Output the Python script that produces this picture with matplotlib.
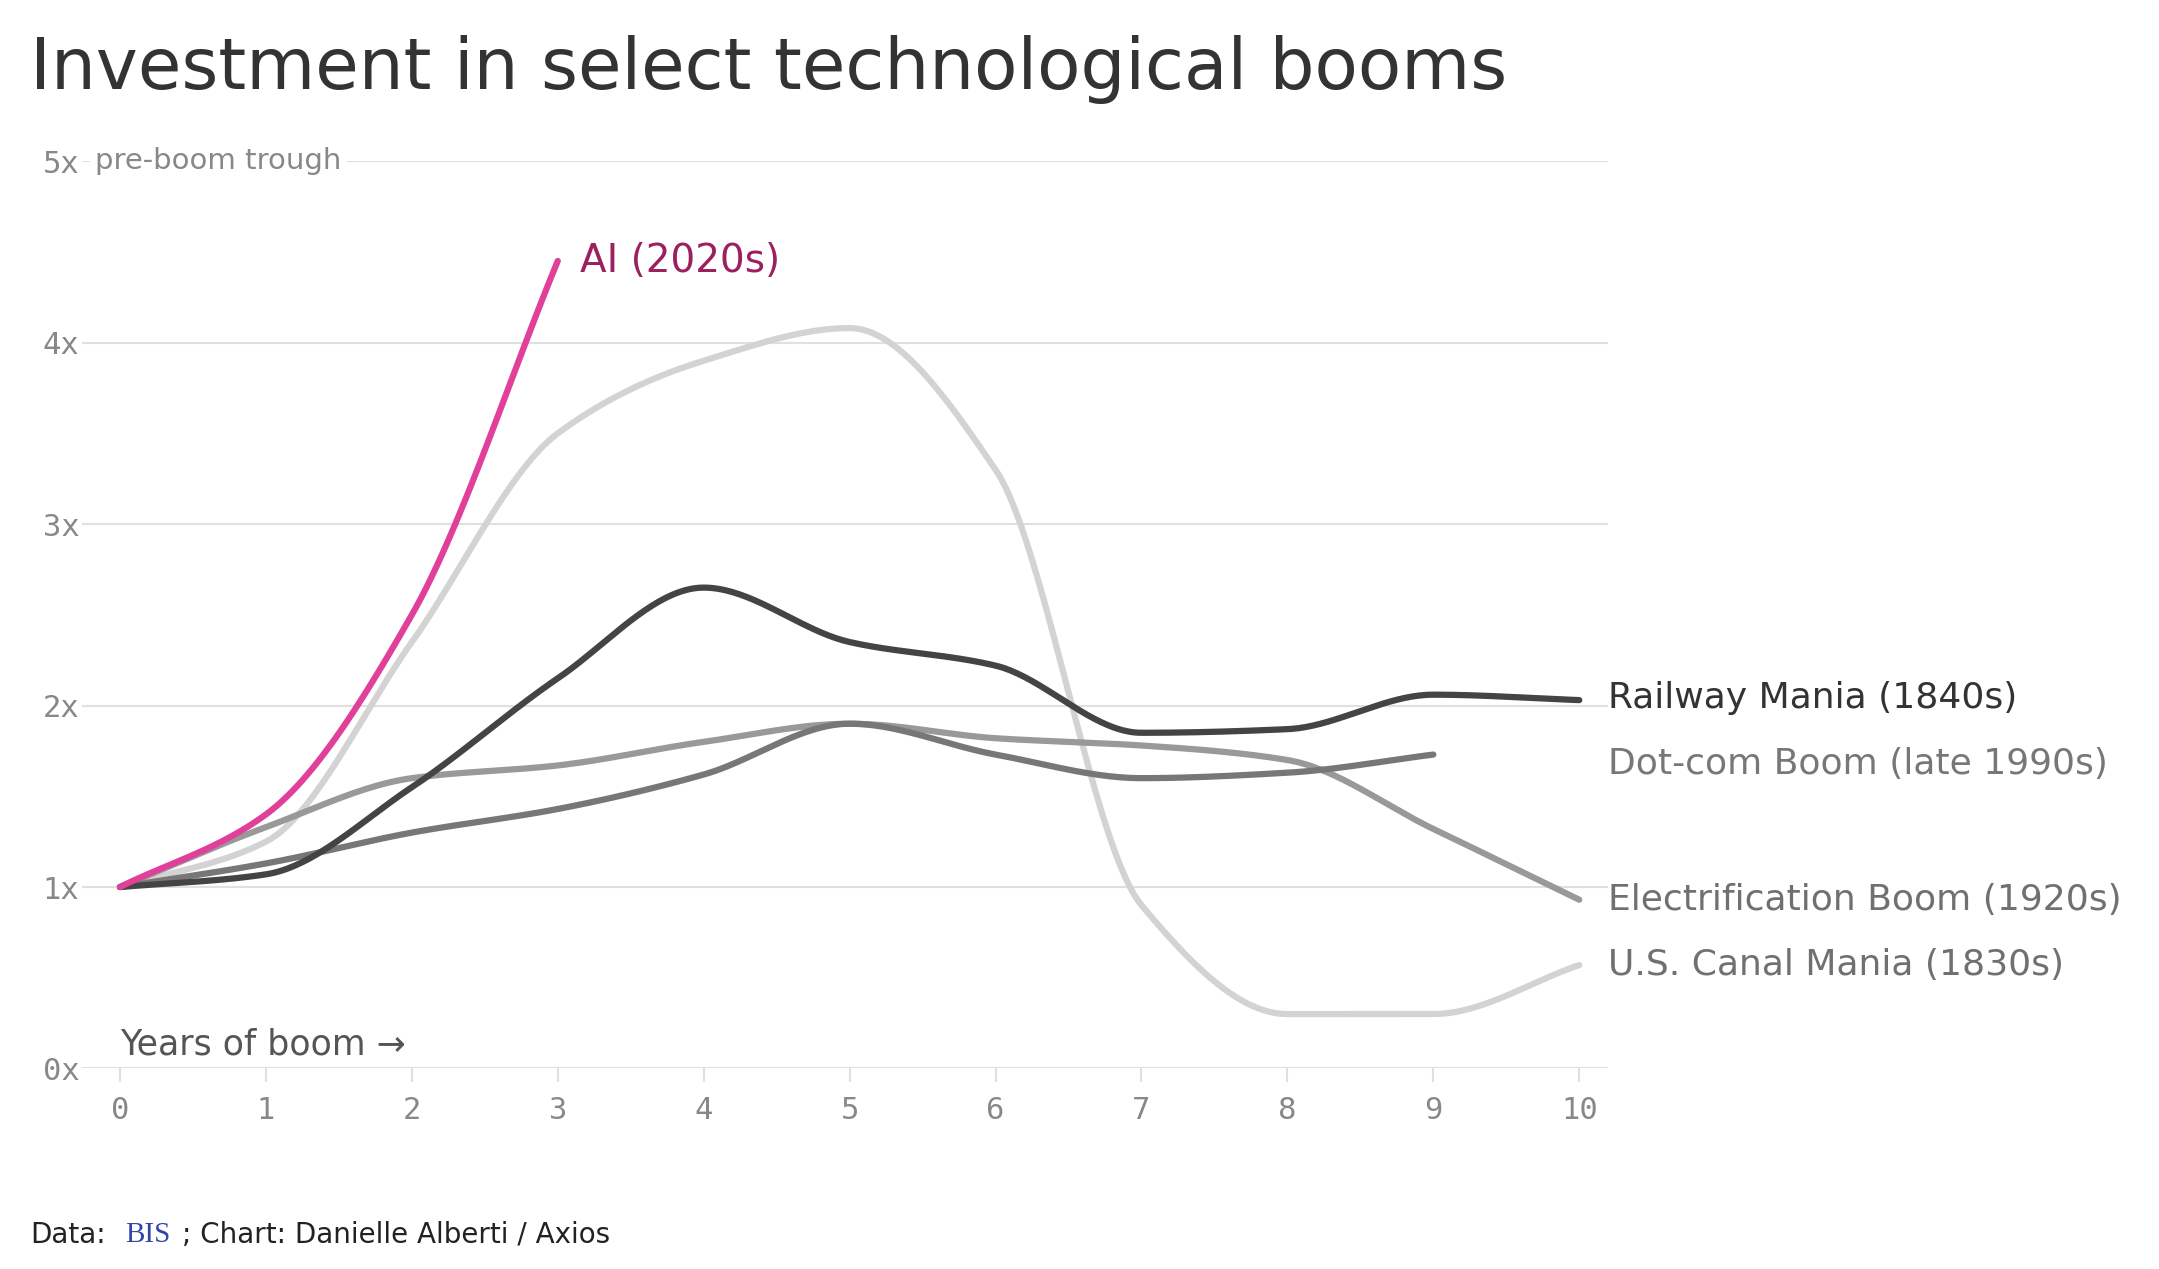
import numpy as np
import matplotlib.pyplot as plt

years = list(range(11))
ai = [1.0, 1.4, 2.5, 4.45]
canal = [1.0, 1.25, 2.35, 3.5, 3.9, 4.08, 3.3, 0.9, 0.3, 0.3, 0.57]
railway = [1.0, 1.07, 1.55, 2.15, 2.65, 2.35, 2.22, 1.85, 1.87, 2.06, 2.03]
dotcom = [1.0, 1.13, 1.3, 1.43, 1.62, 1.9, 1.73, 1.6, 1.63, 1.73]
electric = [1.0, 1.33, 1.6, 1.67, 1.8, 1.9, 1.82, 1.78, 1.7, 1.32, 0.93]


def smooth(y, n=40):
    # monotone cubic (Fritsch-Carlson) just to draw the curves smooth
    y = np.asarray(y, float)
    x = np.arange(len(y), dtype=float)
    d = np.diff(y)
    m = np.zeros_like(y)
    m[0], m[-1] = d[0], d[-1]
    for i in range(1, len(y) - 1):
        if d[i - 1] * d[i] > 0:
            m[i] = 2 / (1 / d[i - 1] + 1 / d[i])
    xs, ys = [], []
    for i in range(len(y) - 1):
        t = np.linspace(0, 1, n, endpoint=False)
        h00 = 2 * t**3 - 3 * t**2 + 1
        h10 = t**3 - 2 * t**2 + t
        h01 = -2 * t**3 + 3 * t**2
        h11 = t**3 - t**2
        xs.append(x[i] + t)
        ys.append(h00 * y[i] + h10 * m[i] + h01 * y[i + 1] + h11 * m[i + 1])
    xs.append([x[-1]])
    ys.append([y[-1]])
    return np.concatenate(xs), np.concatenate(ys)


fig = plt.figure(figsize=(21.59, 12.69), dpi=100)
ax = fig.add_axes([0.038, 0.158, 0.707, 0.715])
ax.set_xlim(-0.26, 10.2)
ax.set_ylim(0, 5)

for v in range(6):
    ax.axhline(v, color='#e0e0e0', lw=1.5, zorder=0)

series = [
    (canal, '#d3d3d3', 'U.S. Canal Mania (1830s)', '#707070'),
    (electric, '#999999', 'Electrification Boom (1920s)', '#707070'),
    (dotcom, '#777777', 'Dot-com Boom (late 1990s)', '#777777'),
    (railway, '#444444', 'Railway Mania (1840s)', '#333333'),
]
label_y = {'U.S. Canal Mania (1830s)': 0.57, 'Electrification Boom (1920s)': 0.93,
           'Dot-com Boom (late 1990s)': 1.68, 'Railway Mania (1840s)': 2.04}
for vals, c, name, tc in series:
    xs, ys = smooth(vals)
    ax.plot(xs, ys, color=c, lw=4.5, solid_capstyle='round')
    ax.text(10.2, label_y[name], name, color=tc, fontsize=26, va='center',
            ha='left', clip_on=False)

xs, ys = smooth(ai)
ax.plot(xs, ys, color='#e0409a', lw=4.5, solid_capstyle='round')
ax.text(3.15, 4.45, 'AI (2020s)', color='#9c2060', fontsize=28, va='center')

for s in ax.spines.values():
    s.set_visible(False)
ax.set_xticks(years)
ax.set_xticklabels([str(v) for v in years], family='DejaVu Sans Mono',
                   fontsize=22, color='#888888')
ax.set_yticks(range(6))
ax.set_yticklabels([f'{v}x' for v in range(6)], family='DejaVu Sans Mono',
                   fontsize=22, color='#888888')
ax.tick_params(axis='y', length=0, pad=2)
ax.tick_params(axis='x', length=10, color='#e0e0e0', width=1.5, pad=10)
ax.text(-0.17, 5, 'pre-boom trough', fontsize=21, color='#888888', va='center',
        bbox=dict(facecolor='white', edgecolor='none', pad=4))
ax.text(0.0, 0.13, 'Years of boom \u2192', fontsize=25, color='#555555', va='center')

fig.text(0.014, 0.945, 'Investment in select technological booms', fontsize=51,
         color='#333333', va='center')
fig.text(0.014, 0.027, 'Data:', fontsize=20, color='#222222', va='center')
fig.text(0.058, 0.027, 'BIS', fontsize=21, color='#3344aa', va='center',
         family='Liberation Serif')
fig.text(0.0845, 0.027, '; Chart: Danielle Alberti / Axios', fontsize=20,
         color='#222222', va='center')

fig.savefig('out.png', dpi=100)
